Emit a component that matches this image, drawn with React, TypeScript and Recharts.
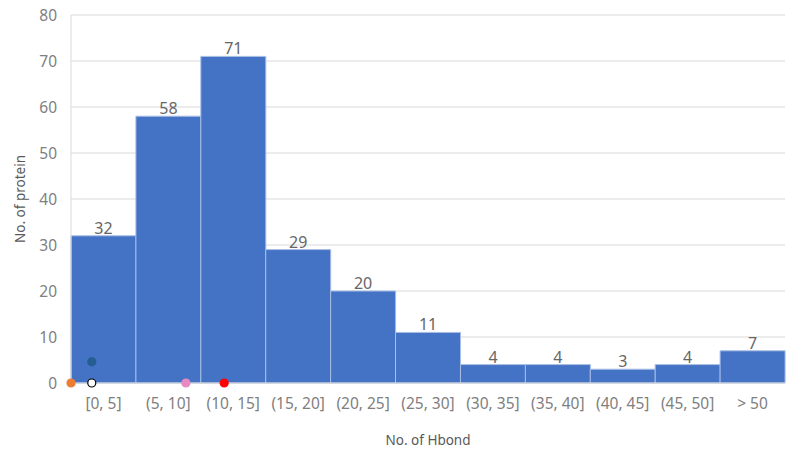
import { Bar, ComposedChart, LabelList, Scatter, XAxis, YAxis, CartesianGrid } from "recharts"

const bins = ["[0, 5]", "(5, 10]", "(10, 15]", "(15, 20]", "(20, 25]", "(25, 30]", "(30, 35]", "(35, 40]", "(40, 45]", "(45, 50]", "> 50"];
const counts = [32, 58, 71, 29, 20, 11, 4, 4, 3, 4, 7];
const yTicks = [0, 10, 20, 30, 40, 50, 60, 70, 80];

// markers sitting on the plot, x in bin units (0..11)
const dotX = [0, 0.32, 0.32, 1.77, 2.36];
const dotY = [0, 4.6, 0, 0, 0];
const dotFill = ["#ED7D31", "#255E91", "#FFFFFF", "#E78AC3", "#FF0000"];
const dotStroke = ["#ED7D31", "#255E91", "#000000", "#E78AC3", "#FF0000"];

const data = bins.map((b, i) => ({ bin: b, count: counts[i] }));
const dots = dotX.map((x, i) => ({ x, y: dotY[i], i }));

const font = "'Noto Sans', sans-serif";

function Dot(props: any) {
  const { cx, cy, payload } = props;
  return <circle cx={cx} cy={cy} r={4} fill={dotFill[payload.i]} stroke={dotStroke[payload.i]} strokeWidth={1.2} />;
}

export default function App() {
  return (
    <div style={{ position: "absolute", left: 0, top: 0, width: 800, height: 453, background: "#fff" }}>
      <ComposedChart width={800} height={453} data={data} barCategoryGap={0} barGap={0}
        margin={{ top: 15, right: 15, bottom: 0, left: 0 }}>
        <CartesianGrid vertical={false} stroke="#D9D9D9" />
        <XAxis
          dataKey="bin"
          xAxisId="cat"
          height={70}
          tickLine={false}
          tickSize={0}
          tickMargin={15}
          axisLine={{ stroke: "#D9D9D9" }}
          tick={{ fill: "#808080", fontSize: 15.5, fontFamily: font }}
          interval={0}
          label={{ value: "No. of Hbond", position: "insideBottom", offset: 8, fill: "#595959", fontSize: 13.5, fontFamily: font }}
        />
        <XAxis xAxisId="num" type="number" dataKey="x" domain={[0, 11]} hide />
        <YAxis
          width={71}
          domain={[0, 80]}
          ticks={yTicks}
          tickLine={false}
          tickSize={0}
          tickMargin={14}
          axisLine={{ stroke: "#D9D9D9" }}
          tick={{ fill: "#808080", fontSize: 15.5, fontFamily: font }}
          label={(p: any) => {
            const vb = p.viewBox;
            const cx = vb.x + 20;
            const cy = vb.y + vb.height / 2;
            return (
              <text x={cx} y={cy} transform={`rotate(-90, ${cx}, ${cy})`} textAnchor="middle" dominantBaseline="central"
                fill="#595959" fontSize={13.5} fontFamily={font}>No. of protein</text>
            );
          }}
        />
        <Bar dataKey="count" xAxisId="cat" fill="#4472C4" stroke="#A9BFE6" strokeWidth={1} isAnimationActive={false}>
          <LabelList dataKey="count" position="top" offset={2} fill="#666666" fontSize={16} fontFamily={font} />
        </Bar>
        <Scatter data={dots} xAxisId="num" dataKey="y" shape={Dot} isAnimationActive={false} />
      </ComposedChart>
    </div>
  );
}
